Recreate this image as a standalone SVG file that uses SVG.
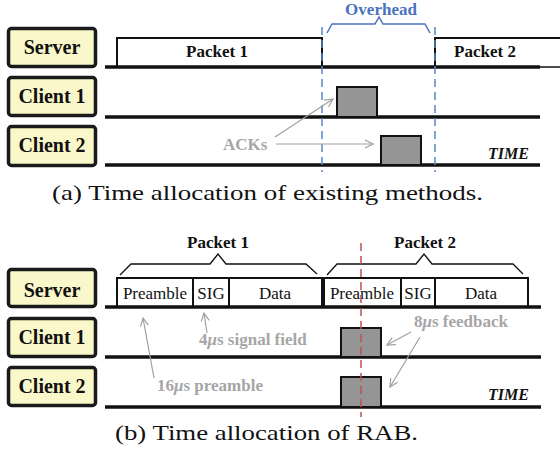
<svg xmlns="http://www.w3.org/2000/svg" width="560" height="450" viewBox="0 0 560 450">
<style>
.box{fill:#FAF8CA;stroke:#1a1a1a;stroke-width:3.5}
.lbl{font-family:'Liberation Serif',serif;font-weight:bold;font-size:20px;fill:#111;text-anchor:middle}
.pk{font-family:'Liberation Serif',serif;font-weight:bold;font-size:17px;fill:#111;text-anchor:middle}
.fld{font-family:'Liberation Serif',serif;font-size:17px;fill:#111;text-anchor:middle}
.base{stroke:#111;stroke-width:3.5;fill:none}
.pkt{stroke:#111;stroke-width:2;fill:#fff}
.ack{fill:#959595;stroke:#111;stroke-width:2}
.gray{font-family:'Liberation Serif',serif;font-weight:bold;font-size:17px;fill:#A6A6A6}
.time{font-family:'Liberation Serif',serif;font-weight:bold;font-style:italic;font-size:16px;fill:#111}
.cap{font-family:'Liberation Serif',serif;font-size:21px;fill:#111}
.arr{stroke:#A0A0A0;stroke-width:1.2;fill:none}
</style>
<defs>
<marker id="oa" viewBox="0 0 10 10" refX="9" refY="5" markerWidth="10" markerHeight="10" markerUnits="userSpaceOnUse" orient="auto">
<path d="M1,1 L9,5 L1,9" fill="none" stroke="#A0A0A0" stroke-width="1.2"/>
</marker>
</defs>

<!-- Part (a) -->
<g id="a-server"><rect class="box" x="8.5" y="28.5" width="87" height="38" rx="3"/><text class="lbl" x="52" y="54">Server</text></g>
<g id="a-client1"><rect class="box" x="8.5" y="77.5" width="87" height="38" rx="3"/><text class="lbl" x="52" y="103">Client 1</text></g>
<g id="a-client2"><rect class="box" x="8.5" y="126.5" width="87" height="39" rx="3"/><text class="lbl" x="52" y="152">Client 2</text></g>

<g id="a-timelines">
<path class="pkt" d="M117,67 V38 H322 V67"/>
<path class="pkt" d="M435,67 V38 H562"/>
<line x1="435" y1="67" x2="562" y2="67" stroke="#111" stroke-width="1.5"/>
<line class="base" x1="105" y1="67" x2="540" y2="67"/>
<line class="base" x1="105" y1="117" x2="540" y2="117"/>
<line class="base" x1="105" y1="165" x2="540" y2="165"/>
<rect class="ack" x="337" y="87" width="40" height="30"/>
<rect class="ack" x="381" y="136" width="40" height="29"/>
<text class="pk" x="217" y="57">Packet 1</text>
<text class="pk" x="485" y="57">Packet 2</text>
<text class="time" x="488" y="159">TIME</text>
</g>

<g id="a-overhead">
<line x1="322" y1="27" x2="322" y2="172" stroke="#5A86C8" stroke-width="1.5" stroke-dasharray="8,5"/>
<line x1="435" y1="27" x2="435" y2="172" stroke="#5A86C8" stroke-width="1.5" stroke-dasharray="8,5"/>
<path d="M327,33 L332,24 H375 L379,17 L383,24 H425 L430,33" fill="none" stroke="#4A72C0" stroke-width="1.5"/>
<text class="pk" x="381" y="15" style="fill:#4A72C0">Overhead</text>
</g>

<g id="a-connectors">
<line class="arr" x1="275" y1="137" x2="333" y2="99" marker-end="url(#oa)"/>
<line class="arr" x1="276" y1="144" x2="373" y2="144" marker-end="url(#oa)"/>
<text class="gray" x="223" y="150">ACKs</text>
</g>

<text class="cap" x="52" y="200" textLength="431" lengthAdjust="spacingAndGlyphs">(a) Time allocation of existing methods.</text>

<!-- Part (b) -->
<g id="b-server"><rect class="box" x="8.5" y="269.5" width="87" height="37" rx="3"/><text class="lbl" x="52" y="297">Server</text></g>
<g id="b-client1"><rect class="box" x="8.5" y="318.5" width="87" height="38" rx="3"/><text class="lbl" x="52" y="344">Client 1</text></g>
<g id="b-client2"><rect class="box" x="8.5" y="367.5" width="87" height="38" rx="3"/><text class="lbl" x="52" y="393">Client 2</text></g>

<g id="b-packets">
<text class="pk" x="218" y="248">Packet 1</text>
<text class="pk" x="425" y="248">Packet 2</text>
<path d="M120,275 L131,264 H210 L218,254 L226,264 H306 L317,274" fill="none" stroke="#111" stroke-width="1.3"/>
<path d="M327,275 L337,264 H416 L424,254 L432,264 H513 L523,274" fill="none" stroke="#111" stroke-width="1.3"/>
<rect class="pkt" x="117" y="278" width="205" height="29"/>
<line x1="193" y1="278" x2="193" y2="307" stroke="#111" stroke-width="2"/>
<line x1="229" y1="278" x2="229" y2="307" stroke="#111" stroke-width="2"/>
<rect class="pkt" x="324" y="278" width="204" height="29"/>
<line x1="401" y1="278" x2="401" y2="307" stroke="#111" stroke-width="2"/>
<line x1="435" y1="278" x2="435" y2="307" stroke="#111" stroke-width="2"/>
<text class="fld" x="155" y="299">Preamble</text>
<text class="fld" x="211" y="299">SIG</text>
<text class="fld" x="275" y="299">Data</text>
<text class="fld" x="362" y="299">Preamble</text>
<text class="fld" x="418" y="299">SIG</text>
<text class="fld" x="481" y="299">Data</text>
<line class="base" x1="105" y1="307" x2="541" y2="307"/>
<line class="base" x1="105" y1="357" x2="541" y2="357"/>
<line class="base" x1="105" y1="407" x2="541" y2="407"/>
<rect class="ack" x="341" y="328" width="40" height="29"/>
<rect class="ack" x="341" y="377" width="40" height="30"/>
<line x1="361" y1="243" x2="361" y2="417" stroke="#C0504D" stroke-width="1.5" stroke-dasharray="8,5"/>
<text class="time" x="488" y="400">TIME</text>
</g>

<g id="b-connectors">
<line class="arr" x1="154" y1="378" x2="143" y2="318" marker-end="url(#oa)"/>
<line class="arr" x1="207" y1="333" x2="204" y2="313" marker-end="url(#oa)"/>
<line class="arr" x1="411" y1="332" x2="387" y2="345" marker-end="url(#oa)"/>
<line class="arr" x1="420" y1="337" x2="390" y2="387" marker-end="url(#oa)"/>
<text class="gray" x="157" y="391">16<tspan font-style="italic">μ</tspan>s preamble</text>
<text class="gray" x="199" y="345">4<tspan font-style="italic">μ</tspan>s signal field</text>
<text class="gray" x="414" y="327">8<tspan font-style="italic">μ</tspan>s feedback</text>
</g>

<text class="cap" x="115" y="440" textLength="303" lengthAdjust="spacingAndGlyphs">(b) Time allocation of RAB.</text>
</svg>
